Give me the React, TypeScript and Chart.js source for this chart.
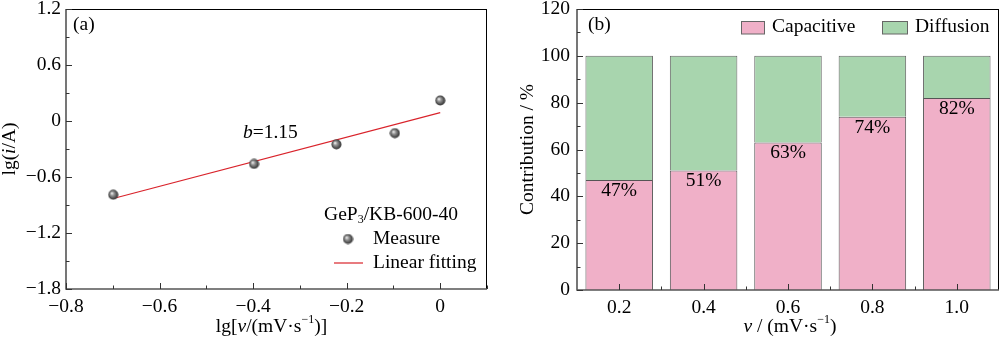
import React, { useEffect, useRef } from "react";
import { Chart, registerables } from "chart.js";
Chart.register(...registerables);

const FONT = "'Liberation Serif', 'Times New Roman', serif";
const FS = 19.5;

// ---- Panel (a) data ----
const lgScanRate = [-0.699, -0.398, -0.222, -0.097, 0];
const lgCurrent = [-0.79, -0.46, -0.25, -0.13, 0.22];
const fitX = [-0.699, 0];
const fitY = [-0.83, 0.09];
const aXTicks = [-0.8, -0.6, -0.4, -0.2, 0];
const aYTicks = [-1.8, -1.2, -0.6, 0, 0.6, 1.2];

// ---- Panel (b) data ----
const scanRates = ["0.2", "0.4", "0.6", "0.8", "1.0"];
const capacitive = [47, 51, 63, 74, 82];
const diffusion = [53, 49, 37, 26, 18];
const bYTicks = [0, 20, 40, 60, 80, 100, 120];

const PINK = "#f0b0c8";
const GREEN = "#a8d5ae";

type Seg = { t: string; it?: boolean; sub?: boolean; sup?: boolean };

function segFont(s: Seg, size: number) {
  const sz = s.sub || s.sup ? Math.round(size * 0.62) : size;
  return `${s.it ? "italic " : ""}${sz}px ${FONT}`;
}

function drawRich(ctx: CanvasRenderingContext2D, segs: Seg[], x: number, y: number, align: "left" | "center", size = FS) {
  let w = 0;
  for (const s of segs) {
    ctx.font = segFont(s, size);
    w += ctx.measureText(s.t).width;
  }
  let cx = align === "center" ? x - w / 2 : x;
  ctx.textAlign = "left";
  ctx.textBaseline = "middle";
  ctx.fillStyle = "#000";
  for (const s of segs) {
    ctx.font = segFont(s, size);
    const dy = s.sup ? -size * 0.38 : s.sub ? size * 0.25 : 0;
    ctx.fillText(s.t, cx, y + dy);
    cx += ctx.measureText(s.t).width;
  }
}

function fmt(v: number) {
  if (Math.abs(v) < 1e-9) return "0";
  return (v < 0 ? "\u2212" : "") + Math.abs(v).toFixed(1);
}

function makeSphere() {
  const c = document.createElement("canvas");
  c.width = 11;
  c.height = 11;
  const g = c.getContext("2d")!;
  const grad = g.createRadialGradient(4, 4, 0.3, 5.5, 5.5, 5.5);
  grad.addColorStop(0, "#f0f0f0");
  grad.addColorStop(0.3, "#9a9a9a");
  grad.addColorStop(0.75, "#4a4a4a");
  grad.addColorStop(1, "#2a2a2a");
  g.fillStyle = grad;
  g.beginPath();
  g.arc(5.5, 5.5, 5, 0, Math.PI * 2);
  g.fill();
  return c;
}

function drawFrame(chart: any, xMaj: number[], xMin: number[], yMaj: number[], yMin: number[]) {
  const { ctx, chartArea } = chart;
  const { left, right, top, bottom } = chartArea;
  ctx.save();
  ctx.strokeStyle = "#000";
  ctx.lineWidth = 1;
  ctx.beginPath();
  ctx.moveTo(left, top + 0.5);
  ctx.lineTo(right, top + 0.5);
  ctx.moveTo(right - 0.5, top);
  ctx.lineTo(right - 0.5, bottom);
  ctx.stroke();
  ctx.strokeStyle = "#555";
  ctx.lineWidth = 1.6;
  ctx.beginPath();
  ctx.moveTo(left, top);
  ctx.lineTo(left, bottom);
  ctx.lineTo(right, bottom);
  ctx.stroke();
  ctx.lineWidth = 1;
  ctx.strokeStyle = "#333";
  ctx.beginPath();
  for (const p of xMaj) { ctx.moveTo(Math.round(p) + 0.5, bottom); ctx.lineTo(Math.round(p) + 0.5, bottom - 6); }
  for (const p of xMin) { ctx.moveTo(Math.round(p) + 0.5, bottom); ctx.lineTo(Math.round(p) + 0.5, bottom - 3.5); }
  for (const p of yMaj) { ctx.moveTo(left, Math.round(p) + 0.5); ctx.lineTo(left + 6, Math.round(p) + 0.5); }
  for (const p of yMin) { ctx.moveTo(left, Math.round(p) + 0.5); ctx.lineTo(left + 3.5, Math.round(p) + 0.5); }
  ctx.stroke();
  ctx.restore();
}

function mids(arr: number[]) {
  const out: number[] = [];
  for (let i = 0; i < arr.length - 1; i++) out.push((arr[i] + arr[i + 1]) / 2);
  return out;
}

export default function App() {
  const aRef = useRef<HTMLCanvasElement>(null);
  const bRef = useRef<HTMLCanvasElement>(null);

  useEffect(() => {
    document.body.style.margin = "0";
    const sphere = makeSphere();
    const tickFont = { family: FONT, size: FS };

    const chartA = new Chart(aRef.current!, {
      type: "scatter",
      data: {
        datasets: [
          {
            label: "Measure",
            data: lgScanRate.map((v, i) => ({ x: v, y: lgCurrent[i] })),
            pointStyle: sphere as any,
            pointRadius: 5,
            order: 0,
          },
          {
            label: "Linear fitting",
            data: fitX.map((v, i) => ({ x: v, y: fitY[i] })),
            showLine: true,
            borderColor: "#d9232b",
            borderWidth: 1.2,
            pointRadius: 0,
            order: 1,
          },
        ],
      },
      options: {
        responsive: false,
        animation: false,
        layout: { padding: { left: 0, right: 13, top: 9, bottom: 0 } },
        plugins: { legend: { display: false }, tooltip: { enabled: false } },
        scales: {
          x: {
            type: "linear",
            min: -0.8,
            max: 0.1,
            grid: { display: false, drawTicks: false },
            border: { display: false },
            afterBuildTicks: (s: any) => { s.ticks = aXTicks.map((v) => ({ value: v })); },
            afterFit: (s: any) => { s.height = 52; s.paddingLeft = 0; s.paddingRight = 0; },
            ticks: { font: tickFont, color: "#000", padding: 6, callback: (v: any) => fmt(Number(v)) },
          },
          y: {
            type: "linear",
            min: -1.8,
            max: 1.2,
            grid: { display: false, drawTicks: false },
            border: { display: false },
            afterBuildTicks: (s: any) => { s.ticks = aYTicks.map((v) => ({ value: v })); },
            afterFit: (s: any) => { s.width = 66; s.paddingTop = 0; s.paddingBottom = 0; },
            ticks: { font: tickFont, color: "#000", padding: 5, callback: (v: any) => fmt(Number(v)) },
          },
        },
      },
      plugins: [
        {
          id: "decorA",
          afterDraw(chart: any) {
            const { ctx, chartArea } = chart;
            const x = chart.scales.x;
            const y = chart.scales.y;
            const xm = [...mids(aXTicks), 0.1];
            drawFrame(
              chart,
              aXTicks.map((v) => x.getPixelForValue(v)),
              xm.map((v) => x.getPixelForValue(v)),
              aYTicks.map((v) => y.getPixelForValue(v)),
              mids(aYTicks).map((v) => y.getPixelForValue(v))
            );
            ctx.save();
            drawRich(ctx, [{ t: "(a)" }], chartArea.left + 7, 25, "left");
            drawRich(ctx, [{ t: "b", it: true }, { t: "=1.15" }], 243, 133, "left");
            drawRich(ctx, [{ t: "GeP" }, { t: "3", sub: true }, { t: "/KB-600-40" }], 391, 215, "center");
            ctx.drawImage(sphere, 348 - 5.5, 239 - 5.5);
            drawRich(ctx, [{ t: "Measure" }], 373, 239, "left");
            ctx.strokeStyle = "#d9232b";
            ctx.lineWidth = 1.2;
            ctx.beginPath();
            ctx.moveTo(334, 263);
            ctx.lineTo(363, 263);
            ctx.stroke();
            drawRich(ctx, [{ t: "Linear fitting" }], 373, 263, "left");
            drawRich(ctx, [{ t: "lg[" }, { t: "v", it: true }, { t: "/(mV\u00b7s" }, { t: "\u22121", sup: true }, { t: ")]" }], (chartArea.left + chartArea.right) / 2 - 5, 327, "center");
            ctx.translate(10, (chartArea.top + chartArea.bottom) / 2);
            ctx.rotate(-Math.PI / 2);
            drawRich(ctx, [{ t: "lg(" }, { t: "i", it: true }, { t: "/A)" }], 0, 0, "center");
            ctx.restore();
          },
        },
      ],
    } as any);

    const chartB = new Chart(bRef.current!, {
      type: "bar",
      data: {
        labels: scanRates,
        datasets: [
          {
            label: "Capacitive",
            data: capacitive,
            backgroundColor: PINK,
            borderColor: "#555",
            borderWidth: 1,
            barPercentage: 0.8,
            categoryPercentage: 1,
          },
          {
            label: "Diffusion",
            data: diffusion,
            backgroundColor: GREEN,
            borderColor: "#666",
            borderWidth: 1,
            barPercentage: 0.8,
            categoryPercentage: 1,
          },
        ],
      },
      options: {
        responsive: false,
        animation: false,
        layout: { padding: { left: 0, right: 1, top: 9, bottom: 0 } },
        plugins: { legend: { display: false }, tooltip: { enabled: false } },
        scales: {
          x: {
            stacked: true,
            offset: true,
            grid: { display: false, drawTicks: false },
            border: { display: false },
            afterFit: (s: any) => { s.height = 51; s.paddingLeft = 0; s.paddingRight = 0; },
            ticks: { font: tickFont, color: "#000", padding: 6 },
          },
          y: {
            stacked: true,
            min: 0,
            max: 120,
            grid: { display: false, drawTicks: false },
            border: { display: false },
            afterBuildTicks: (s: any) => { s.ticks = bYTicks.map((v) => ({ value: v })); },
            afterFit: (s: any) => { s.width = 77; s.paddingTop = 0; s.paddingBottom = 0; },
            ticks: { font: tickFont, color: "#000", padding: 7 },
          },
        },
      },
      plugins: [
        {
          id: "decorB",
          afterDraw(chart: any) {
            const { ctx, chartArea } = chart;
            const x = chart.scales.x;
            const y = chart.scales.y;
            const centers = scanRates.map((_, i) => x.getPixelForValue(i));
            const bounds = mids(centers);
            drawFrame(
              chart,
              centers,
              bounds,
              bYTicks.map((v) => y.getPixelForValue(v)),
              mids(bYTicks).map((v) => y.getPixelForValue(v))
            );
            ctx.save();
            const meta = chart.getDatasetMeta(0);
            meta.data.forEach((el: any, i: number) => {
              ctx.font = `${FS}px ${FONT}`;
              ctx.fillStyle = "#000";
              ctx.textAlign = "center";
              ctx.textBaseline = "top";
              ctx.fillText(`${capacitive[i]}%`, el.x, el.y + 1);
            });
            drawRich(ctx, [{ t: "(b)" }], chartArea.left + 11, 25, "left");
            // legend
            ctx.lineWidth = 1;
            ctx.fillStyle = PINK;
            ctx.strokeStyle = "#666";
            ctx.fillRect(241.5, 21.5, 23, 12.5);
            ctx.strokeRect(241.5, 21.5, 23, 12.5);
            drawRich(ctx, [{ t: "Capacitive" }], 272, 27, "left");
            ctx.fillStyle = GREEN;
            ctx.fillRect(382.5, 21.5, 25, 12.5);
            ctx.strokeRect(382.5, 21.5, 25, 12.5);
            drawRich(ctx, [{ t: "Diffusion" }], 415, 27, "left");
            drawRich(ctx, [{ t: "v", it: true }, { t: " / (mV\u00b7s" }, { t: "\u22121", sup: true }, { t: ")" }], 290, 327, "center");
            ctx.translate(28, (chartArea.top + chartArea.bottom) / 2);
            ctx.rotate(-Math.PI / 2);
            drawRich(ctx, [{ t: "Contribution / %" }], 0, 0, "center");
            ctx.restore();
          },
        },
      ],
    } as any);

    return () => {
      chartA.destroy();
      chartB.destroy();
    };
  }, []);

  return (
    <div style={{ position: "relative", width: 1000, height: 341, background: "#fff" }}>
      <canvas ref={aRef} width={500} height={341} style={{ position: "absolute", left: 0, top: 0 }} />
      <canvas ref={bRef} width={500} height={341} style={{ position: "absolute", left: 500, top: 0 }} />
    </div>
  );
}
